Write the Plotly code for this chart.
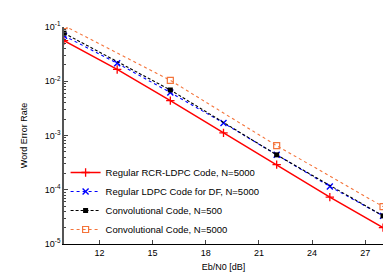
import plotly.graph_objects as go

ebn0_ldpc = [10, 13, 16, 19, 22, 25, 28]
wer_rcr = [0.056, 0.0165, 0.0044, 1.12e-3, 2.9e-4, 7.3e-5, 2.0e-5]
wer_ldpc_df = [0.069, 0.0215, 0.0062, 1.7e-3, 4.4e-4, 1.15e-4, 3.3e-5]

ebn0_conv = [10, 16, 22, 28]
wer_conv500 = [0.077, 0.0069, 4.4e-4, 3.3e-5]
wer_conv5000 = [0.106, 0.0104, 6.5e-4, 4.9e-5]

names = ["Regular RCR-LDPC Code, N=5000", "Regular LDPC Code for DF, N=5000",
         "Convolutional Code, N=500", "Convolutional Code, N=5000"]
ytick_vals = [1e-5, 1e-4, 1e-3, 1e-2, 1e-1]
ytick_text = ["10<sup>-5</sup>", "10<sup>-4</sup>", "10<sup>-3</sup>", "10<sup>-2</sup>", "10<sup>-1</sup>"]
xtick_vals = [12, 15, 18, 21, 24, 27]
minor_vals = [k * d for d in ytick_vals[:-1] for k in range(2, 10)]

fig = go.Figure()
fig.add_trace(go.Scatter(x=ebn0_ldpc, y=wer_rcr, name=names[0], mode="lines+markers",
                         line=dict(color="#ff0000", width=1.5),
                         marker=dict(symbol="cross-thin", size=6, line=dict(color="#ff0000", width=1.3))))
fig.add_trace(go.Scatter(x=ebn0_ldpc, y=wer_ldpc_df, name=names[1], mode="lines+markers",
                         line=dict(color="#0000ff", width=1.1, dash="dot"),
                         marker=dict(symbol="x-thin", size=6, line=dict(color="#0000ff", width=1.4))))
fig.add_trace(go.Scatter(x=ebn0_conv, y=wer_conv500, name=names[2], mode="lines+markers",
                         line=dict(color="#000000", width=1.1, dash="3px,2px"),
                         marker=dict(symbol="square", size=5, color="#000000")))
fig.add_trace(go.Scatter(x=ebn0_conv, y=wer_conv5000, name=names[3], mode="lines+markers",
                         line=dict(color="#f4743b", width=1.1, dash="dot"),
                         marker=dict(symbol="square-open", size=6, color="#f4743b", line=dict(width=1.2))))

font = "Liberation Sans, Arial, sans-serif"
fig.update_layout(
    width=391, height=274,
    margin=dict(l=56, r=16, t=13, b=29),
    paper_bgcolor="white", plot_bgcolor="white",
    font=dict(family=font, size=9, color="#000000"),
    showlegend=True,
    legend=dict(x=0.005, y=0.0, xanchor="left", yanchor="bottom",
                bgcolor="rgba(255,255,255,0)", font=dict(size=9.5),
                itemwidth=30, tracegroupgap=0),
    xaxis=dict(range=[10, 28], tickvals=xtick_vals, ticks="inside", ticklen=4,
               showline=True, linecolor="#000000", linewidth=1, mirror=False,
               showgrid=False, zeroline=False,
               title=dict(text="Eb/N0 [dB]", standoff=6, font=dict(size=9))),
    yaxis=dict(type="log", range=[-5, -1], tickvals=ytick_vals, ticktext=ytick_text,
               ticks="inside", ticklen=4,
               minor=dict(tickmode="array", tickvals=minor_vals, ticks="inside",
                          ticklen=2, showgrid=False),
               showline=True, linecolor="#555555", linewidth=1.5, mirror=False,
               showgrid=False, zeroline=False,
               title=dict(text="Word Error Rate", standoff=16, font=dict(size=9))),
)

fig.write_html("out.html")
